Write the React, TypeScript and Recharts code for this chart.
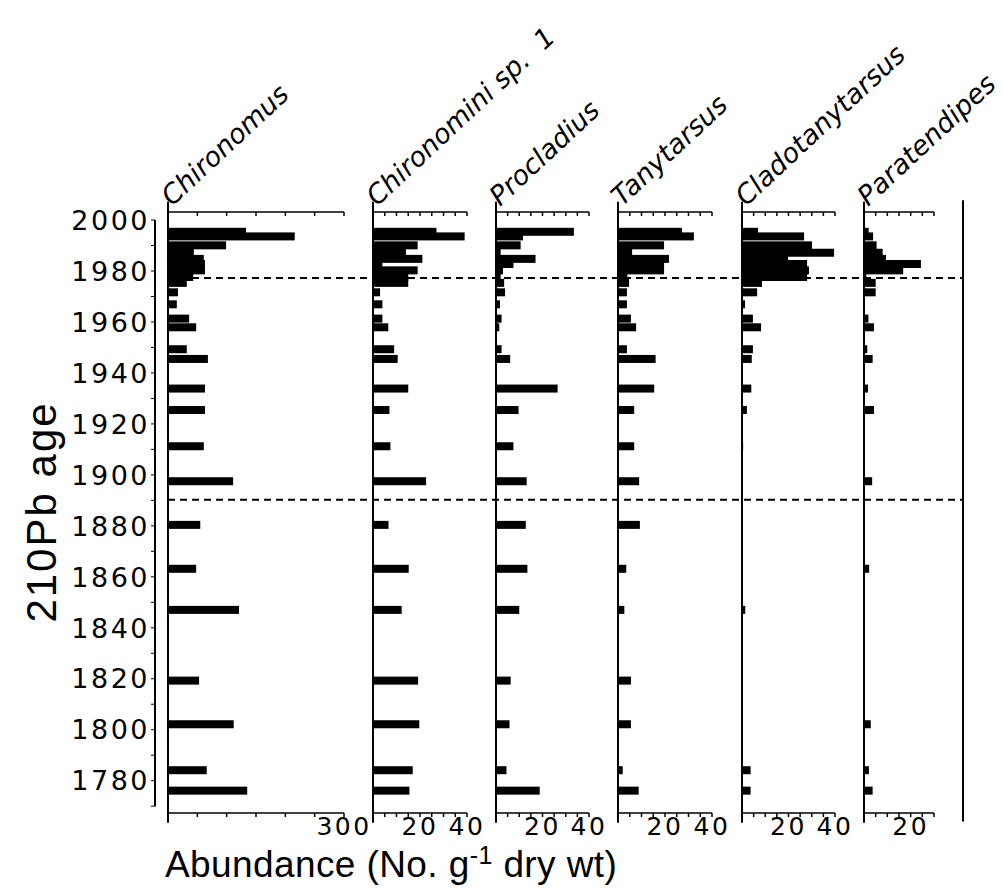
import { BarChart, Bar, XAxis, YAxis, ReferenceLine } from 'recharts'

// sample ages (210Pb years), top of core first
const years = [
  1994.9, 1993.1, 1989.6, 1986.7, 1984.3, 1982.3, 1979.8, 1977.2, 1974.9, 1971.2,
  1966.5, 1960.9, 1957.5, 1948.9, 1945.1, 1933.5, 1925.1, 1910.9, 1897.2, 1880.1,
  1862.9, 1846.8, 1819.1, 1802.0, 1784.0, 1776.0,
]

// abundance, No. g-1 dry wt
const chironomus = [
  133, 216, 99, 44, 61, 63, 63, 43, 32, 17, 15, 36, 48, 32, 68, 63, 63, 61, 111, 55,
  48, 121, 53, 112, 66, 135,
]
const chironominiSp1 = [
  27, 39, 19, 14, 21, 4, 19, 15, 15, 3, 4, 4, 6.5, 9, 10.5, 15, 7, 7.4, 22.6, 6.6,
  15.2, 12.2, 19.2, 19.7, 16.9, 15.5,
]
const procladius = [
  33.5, 11.6, 10.6, 2, 17, 7.5, 3, 2, 3.5, 3.9, 1.7, 2.4, 1.4, 2.4, 6.1, 26.5, 9.7,
  7.5, 13.2, 12.8, 13.5, 10, 6.3, 5.8, 4.5, 18.8,
]
const tanytarsus = [
  27.2, 32.3, 19.6, 6, 21.7, 19.6, 19.6, 4, 4.7, 3.8, 3.8, 5.5, 7.7, 3.8, 16, 15.4,
  6.9, 6.9, 9, 9.3, 3.5, 2.7, 5.5, 5.5, 2, 8.8,
]
const cladotanytarsus = [
  6.9, 26.7, 30.1, 39.6, 19.8, 28, 28.8, 28, 8.6, 6.5, 1.3, 4.7, 8.2, 4.7, 4.2, 4,
  2.1, 0.5, 0, 0, 0, 1.4, 0, 0, 3.7, 3.7,
]
const paratendipes = [
  2, 3.9, 5.4, 8, 9.4, 24.4, 16.8, 1, 5, 5, 0, 1.9, 4.3, 1.4, 3.7, 1.7, 4.3, 0, 3.5,
  0, 2.2, 0, 0, 2.9, 2.1, 3.7,
]

const yearTicks = [
  1770, 1780, 1790, 1800, 1810, 1820, 1830, 1840, 1850, 1860, 1870, 1880, 1890, 1900,
  1910, 1920, 1930, 1940, 1950, 1960, 1970, 1980, 1990, 2000,
]
const zoneBoundaries = [1977.2, 1890.2]

const rows = years.map((year, i) => ({
  year,
  chironomus: chironomus[i],
  chironominiSp1: chironominiSp1[i],
  procladius: procladius[i],
  tanytarsus: tanytarsus[i],
  cladotanytarsus: cladotanytarsus[i],
  paratendipes: paratendipes[i],
}))

const W = 1003
const H = 888
const PLOT_TOP = 213
const PLOT_BOTTOM = 813
const YEAR_DOMAIN: [number, number] = [1767.33, 2002.75]
const FRAME_LEFT = 155
const FRAME_RIGHT = 963
const BAR_T = 8

const panels = [
  { key: 'chironomus', title: 'Chironomus', x0: 168, x1: 344, max: 300, step: 50, labels: [300] },
  { key: 'chironominiSp1', title: 'Chironomini sp.\u00a0\u00a01', x0: 373, x1: 467, max: 40, step: 5, labels: [20, 40] },
  { key: 'procladius', title: 'Procladius', x0: 496, x1: 589, max: 40, step: 5, labels: [20, 40] },
  { key: 'tanytarsus', title: 'Tanytarsus', x0: 618, x1: 712, max: 40, step: 5, labels: [20, 40] },
  { key: 'cladotanytarsus', title: 'Cladotanytarsus', x0: 742, x1: 835, max: 40, step: 5, labels: [20, 40] },
  { key: 'paratendipes', title: 'Paratendipes', x0: 864, x1: 934, max: 30, step: 5, labels: [20] },
]

const numFont = "'DejaVu Sans', sans-serif"
const textFont = "'Liberation Sans', Arial, sans-serif"

type PanelDef = (typeof panels)[number]

// fixed-thickness bar centred on the sample age
function SampleBar(props: any) {
  const { x, y, width, height, fill } = props
  if (!width || width <= 0) return null
  const cy = y + height / 2
  return <rect x={x} y={cy - BAR_T / 2} width={width} height={BAR_T} fill={fill} />
}

const NoLabel = () => <g />

function bottomTick(labels: number[]) {
  return (props: any) => {
    const { x, y, payload } = props
    if (!labels.includes(payload.value)) return <g />
    return (
      <text
        x={x}
        y={y}
        dy="0.72em"
        textAnchor="middle"
        fontFamily={numFont}
        fontSize={25}
        letterSpacing={2.5}
        fill="#000"
      >
        {payload.value}
      </text>
    )
  }
}

function YearTick(props: any) {
  const { x, y, payload } = props
  if (payload.value % 20 !== 0) return <g />
  return (
    <text
      x={x}
      y={y}
      dy="0.36em"
      textAnchor="end"
      fontFamily={numFont}
      fontSize={27}
      letterSpacing={2.5}
      fill="#000"
    >
      {payload.value}
    </text>
  )
}

function Panel({ p }: { p: PanelDef }) {
  const ticks: number[] = []
  for (let v = 0; v <= p.max; v += p.step) ticks.push(v)
  return (
    <div style={{ position: 'absolute', left: 0, top: 0 }}>
      <BarChart
        width={W}
        height={H}
        data={rows}
        layout="vertical"
        margin={{ top: PLOT_TOP - 1, bottom: H - PLOT_BOTTOM - 30, left: p.x0, right: W - p.x1 }}
      >
        <YAxis type="number" dataKey="year" domain={YEAR_DOMAIN} reversed hide allowDataOverflow />
        <XAxis
          xAxisId="top"
          orientation="top"
          type="number"
          domain={[0, p.max]}
          allowDataOverflow
          ticks={ticks}
          interval={0}
          height={1}
          mirror
          tick={NoLabel}
          tickSize={4}
          stroke="#000"
          strokeWidth={1.5}
        />
        <XAxis
          xAxisId="bottom"
          orientation="bottom"
          type="number"
          domain={[0, p.max]}
          allowDataOverflow
          ticks={ticks}
          interval={0}
          height={30}
          tickSize={4}
          tickMargin={0}
          tick={bottomTick(p.labels)}
          stroke="#000"
          strokeWidth={1.5}
        />
        <ReferenceLine
          xAxisId="bottom"
          segment={[{ x: 0, y: 2006.8 }, { x: 0, y: 1763.5 }]}
          ifOverflow="visible"
          stroke="#000"
          strokeWidth={2}
        />
        <Bar
          xAxisId="bottom"
          dataKey={p.key}
          fill="#000"
          barSize={BAR_T}
          shape={SampleBar}
          isAnimationActive={false}
        />
      </BarChart>
    </div>
  )
}

function Frame() {
  const span = FRAME_RIGHT - FRAME_LEFT
  const dashStart = panels[0].x0 - FRAME_LEFT
  return (
    <div style={{ position: 'absolute', left: 0, top: 0 }}>
      <BarChart
        width={W}
        height={H}
        data={rows}
        layout="vertical"
        margin={{ top: PLOT_TOP, bottom: H - PLOT_BOTTOM, left: FRAME_LEFT - 100, right: W - FRAME_RIGHT }}
      >
        <XAxis type="number" domain={[0, span]} allowDataOverflow hide />
        <YAxis
          type="number"
          dataKey="year"
          domain={YEAR_DOMAIN}
          reversed
          allowDataOverflow
          ticks={yearTicks}
          interval={0}
          width={100}
          tickSize={4}
          tickMargin={1}
          axisLine={false}
          tick={YearTick}
          stroke="#000"
        />
        <ReferenceLine
          segment={[{ x: 0, y: 1770 }, { x: 0, y: 2000 }]}
          ifOverflow="visible"
          stroke="#000"
          strokeWidth={2}
        />
        {zoneBoundaries.map((y) => (
          <ReferenceLine
            key={y}
            segment={[{ x: dashStart, y }, { x: span, y }]}
            ifOverflow="visible"
            stroke="#000"
            strokeWidth={2}
            strokeDasharray="7 5"
          />
        ))}
        <ReferenceLine
          segment={[{ x: span, y: 2007.8 }, { x: span, y: 1764 }]}
          ifOverflow="visible"
          stroke="#000"
          strokeWidth={2}
        />
      </BarChart>
    </div>
  )
}

export default function App() {
  return (
    <div
      style={{
        position: 'absolute',
        left: 0,
        top: 0,
        width: W,
        height: H,
        background: '#fff',
        overflow: 'hidden',
      }}
    >
      <Frame />
      {panels.map((p) => (
        <Panel key={p.key} p={p} />
      ))}
      <svg width={W} height={H} style={{ position: 'absolute', left: 0, top: 0 }}>
        {panels.map((p) => (
          <text
            key={p.key}
            x={p.x0 + 4}
            y={207}
            transform={`rotate(-43 ${p.x0 + 4} 207)`}
            fontFamily={numFont}
            fontStyle="italic"
            fontSize={27}
            fill="#000"
          >
            {p.title}
          </text>
        ))}
        <text
          transform="translate(56 512) rotate(-90)"
          textAnchor="middle"
          fontFamily={textFont}
          fontSize={42}
          letterSpacing={2}
          fill="#000"
        >
          210Pb age
        </text>
        <text x={165} y={877} fontFamily={textFont} fontSize={37} letterSpacing={0.4} fill="#000">
          Abundance (No. g
          <tspan dy={-13} fontSize={25}>-1</tspan>
          <tspan dy={13}> dry wt)</tspan>
        </text>
      </svg>
    </div>
  )
}
